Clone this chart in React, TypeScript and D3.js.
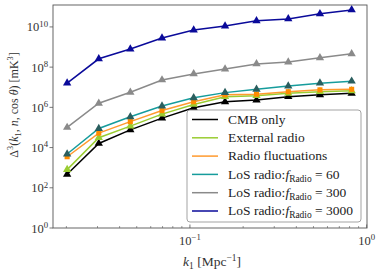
import React, { useEffect, useRef } from 'react';
import * as d3 from 'd3';

// k1 sample points [Mpc^-1]
const K1 = [0.0202, 0.0305, 0.046, 0.0695, 0.105, 0.158, 0.238, 0.36, 0.544, 0.822];

// Delta^3 values [mK^3]
const CMB_ONLY = [4.7e2, 1.6e4, 7.6e4, 2.9e5, 9.5e5, 1.9e6, 2.3e6, 3.4e6, 4.2e6, 5.0e6];
const EXTERNAL_RADIO = [8.0e2, 3.1e4, 1.17e5, 4.6e5, 1.4e6, 3.4e6, 3.8e6, 5.0e6, 6.0e6, 6.6e6];
const RADIO_FLUCT = [3.5e3, 5.2e4, 1.95e5, 6.9e5, 1.9e6, 4.2e6, 4.5e6, 6.0e6, 7.4e6, 7.9e6];
const LOS_60 = [4.8e3, 8.9e4, 3.4e5, 1.17e6, 3.0e6, 5.4e6, 7.9e6, 1.15e7, 1.6e7, 2.0e7];
const LOS_300 = [1.0e5, 1.6e6, 5.6e6, 2.3e7, 4.6e7, 8.1e7, 1.45e8, 1.8e8, 2.9e8, 4.6e8];
const LOS_3000 = [1.6e7, 2.6e8, 8.0e8, 2.8e9, 7.0e9, 1.1e10, 2.0e10, 2.5e10, 4.5e10, 7.0e10];

const Y_TICKS = [1e0, 1e2, 1e4, 1e6, 1e8, 1e10];
const Y_TICK_EXP = ['0', '2', '4', '6', '8', '10'];
const X_TICKS = [0.1, 1];
const X_TICK_EXP = ['\u22121', '0'];

type Part = { t: string; k?: 'i' | 'sub' | 'sup' };

const SERIES: { name: Part[]; values: number[]; color: string; marker: 'tri' | 'sq'; mcolor: string }[] = [
  { name: [{ t: 'CMB only' }], values: CMB_ONLY, color: '#000000', marker: 'tri', mcolor: '#000000' },
  { name: [{ t: 'External radio' }], values: EXTERNAL_RADIO, color: '#9acd32', marker: 'tri', mcolor: '#9acd32' },
  { name: [{ t: 'Radio fluctuations' }], values: RADIO_FLUCT, color: '#ff9a2e', marker: 'sq', mcolor: '#ff8c00' },
  { name: [{ t: 'LoS radio:' }, { t: 'f', k: 'i' }, { t: 'Radio', k: 'sub' }, { t: ' = 60' }], values: LOS_60, color: '#169c9c', marker: 'tri', mcolor: '#2a5e5e' },
  { name: [{ t: 'LoS radio:' }, { t: 'f', k: 'i' }, { t: 'Radio', k: 'sub' }, { t: ' = 300' }], values: LOS_300, color: '#8a8a8a', marker: 'tri', mcolor: '#8a8a8a' },
  { name: [{ t: 'LoS radio:' }, { t: 'f', k: 'i' }, { t: 'Radio', k: 'sub' }, { t: ' = 3000' }], values: LOS_3000, color: '#0a0a9a', marker: 'tri', mcolor: '#0a0a9a' },
];

const FONT = "'Liberation Serif', serif";

function rich(sel: d3.Selection<SVGTextElement, unknown, null, undefined>, parts: Part[], size: number) {
  let shift = 0;
  parts.forEach((p) => {
    const target = p.k === 'sup' ? -size * 0.38 : p.k === 'sub' ? size * 0.22 : 0;
    const ts = sel.append('tspan').attr('dy', target - shift).text(p.t);
    shift = target;
    if (p.k === 'sup' || p.k === 'sub') ts.attr('font-size', size * 0.7);
    if (p.k === 'i') ts.attr('font-style', 'italic');
  });
}

export default function App() {
  const svgRef = useRef<SVGSVGElement>(null);

  useEffect(() => {
    if (!svgRef.current) return;
    const width = 380;
    const height = 273;
    const m = { left: 53, right: 367, top: 5, bottom: 228 };

    const svg = d3.select(svgRef.current);
    svg.selectAll('*').remove();

    const x = d3.scaleLog().domain([0.0168, 1.004]).range([m.left, m.right]);
    const y = d3.scaleLog().domain([1, 1.23e11]).range([m.bottom, m.top]);

    svg.append('rect').attr('width', width).attr('height', height).attr('fill', '#fff');

    const line = d3.line<number>()
      .x((_, i) => x(K1[i]))
      .y((d) => y(d));

    SERIES.forEach((s) => {
      svg.append('path')
        .datum(s.values)
        .attr('d', line)
        .attr('fill', 'none')
        .attr('stroke', s.color)
        .attr('stroke-width', 1.5);
      const sym = d3.symbol().type(s.marker === 'tri' ? d3.symbolTriangle : d3.symbolSquare).size(s.marker === 'tri' ? 30 : 26);
      svg.append('g').selectAll('path')
        .data(s.values)
        .enter()
        .append('path')
        .attr('d', sym)
        .attr('transform', (d, i) => `translate(${x(K1[i])},${y(d)})`)
        .attr('fill', s.mcolor);
    });

    // frame
    svg.append('rect')
      .attr('x', m.left).attr('y', m.top)
      .attr('width', m.right - m.left).attr('height', m.bottom - m.top)
      .attr('fill', 'none').attr('stroke', '#555').attr('stroke-width', 0.9);

    // y ticks
    Y_TICKS.forEach((t, i) => {
      svg.append('line')
        .attr('x1', m.left - 3.5).attr('x2', m.left)
        .attr('y1', y(t)).attr('y2', y(t))
        .attr('stroke', '#555').attr('stroke-width', 0.8);
      const txt = svg.append('text')
        .attr('x', m.left - 5).attr('y', y(t) + 4.5)
        .attr('text-anchor', 'end')
        .attr('font-family', FONT).attr('font-size', 12.5).attr('fill', '#333');
      rich(txt, [{ t: '10' }, { t: Y_TICK_EXP[i], k: 'sup' }], 12.5);
    });

    // x ticks (major + minor, inward)
    const minor: number[] = [];
    [0.01, 0.1].forEach((d) => {
      for (let j = 2; j <= 9; j++) minor.push(d * j);
    });
    minor.filter((v) => v > 0.0168 && v < 1.004).forEach((v) => {
      svg.append('line')
        .attr('x1', x(v)).attr('x2', x(v))
        .attr('y1', m.bottom).attr('y2', m.bottom - 2)
        .attr('stroke', '#555').attr('stroke-width', 0.6);
    });
    X_TICKS.forEach((t, i) => {
      svg.append('line')
        .attr('x1', x(t)).attr('x2', x(t))
        .attr('y1', m.bottom).attr('y2', m.bottom - 3.5)
        .attr('stroke', '#555').attr('stroke-width', 0.8);
      const txt = svg.append('text')
        .attr('x', x(t)).attr('y', 245)
        .attr('text-anchor', 'middle')
        .attr('font-family', FONT).attr('font-size', 12.5).attr('fill', '#333');
      rich(txt, [{ t: '10' }, { t: X_TICK_EXP[i], k: 'sup' }], 12.5);
    });

    // axis labels
    const xl = svg.append('text')
      .attr('x', 212).attr('y', 266)
      .attr('text-anchor', 'middle')
      .attr('font-family', FONT).attr('font-size', 13.5).attr('fill', '#333');
    rich(xl, [{ t: 'k', k: 'i' }, { t: '1', k: 'sub' }, { t: ' [Mpc' }, { t: '\u22121', k: 'sup' }, { t: ']' }], 13.5);

    const yl = svg.append('text')
      .attr('transform', 'translate(18,105) rotate(-90)')
      .attr('text-anchor', 'middle')
      .attr('font-family', FONT).attr('font-size', 12).attr('fill', '#333');
    rich(yl, [
      { t: '\u0394' }, { t: '3', k: 'sup' }, { t: '(' }, { t: 'k', k: 'i' }, { t: '1', k: 'sub' },
      { t: ', ' }, { t: 'n', k: 'i' }, { t: ', cos ' }, { t: '\u03b8', k: 'i' }, { t: ') [mK' }, { t: '3', k: 'sup' }, { t: ']' },
    ], 12);

    // legend
    const lg = svg.append('g');
    lg.append('rect')
      .attr('x', 187).attr('y', 110).attr('width', 174).attr('height', 112)
      .attr('rx', 3).attr('fill', 'rgba(255,255,255,0.85)')
      .attr('stroke', '#999').attr('stroke-width', 0.9);
    SERIES.forEach((s, i) => {
      const cy = 119.5 + i * 18.3;
      lg.append('line')
        .attr('x1', 192).attr('x2', 218)
        .attr('y1', cy).attr('y2', cy)
        .attr('stroke', s.color).attr('stroke-width', 1.5);
      const t = lg.append('text')
        .attr('x', 228).attr('y', cy + 4.2)
        .attr('font-family', FONT).attr('font-size', 13.5).attr('fill', '#222');
      rich(t, s.name, 13.5);
    });
  }, []);

  return (
    <svg
      ref={svgRef}
      width={380}
      height={273}
      viewBox="0 0 380 273"
      style={{ position: 'absolute', left: 0, top: 0 }}
    />
  );
}
